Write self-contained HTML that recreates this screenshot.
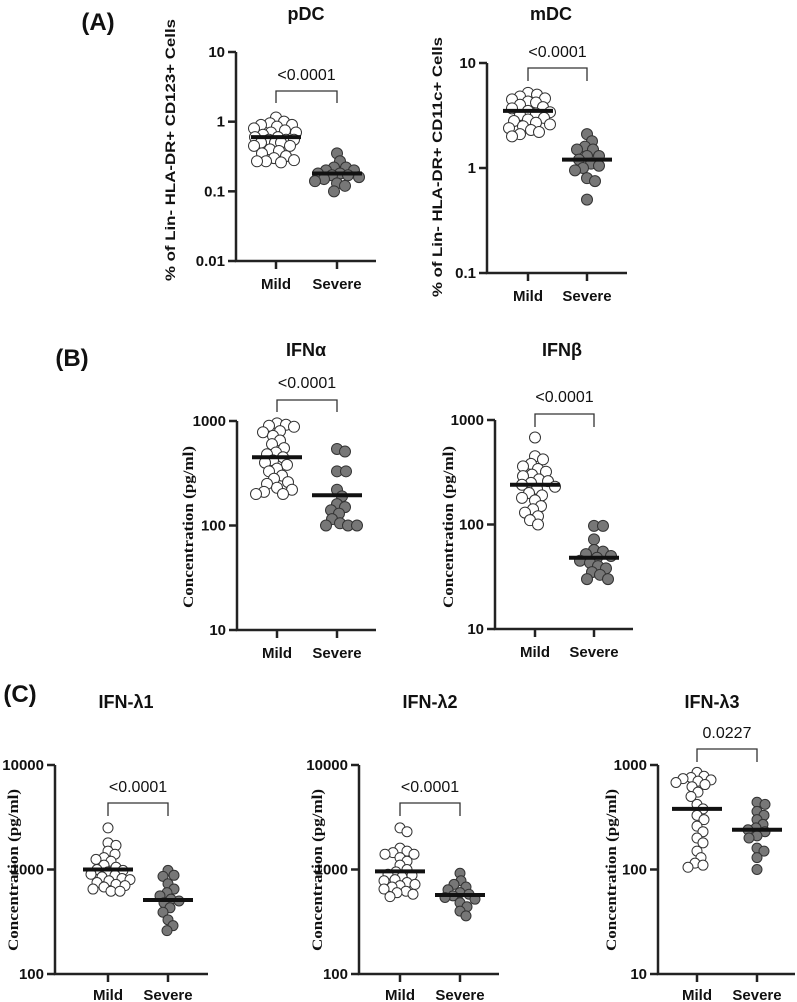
<!DOCTYPE html>
<html><head><meta charset="utf-8"><style>
html,body{margin:0;padding:0;background:#fff;}
svg{display:block;}
text{font-family:"Liberation Sans",Arial,sans-serif;fill:#111;}
.tick{font-weight:bold;font-size:15px;}
.ylab{font-weight:bold;font-size:14px;}
.ser{font-family:"Liberation Serif","Times New Roman",serif;font-weight:bold;font-size:15px;}
</style></head><body>
<svg id="fig" width="797" height="1002" viewBox="0 0 797 1002" xmlns="http://www.w3.org/2000/svg">
<text x="98" y="30" font-size="24" font-weight="bold" text-anchor="middle">(A)</text>
<text x="72" y="366" font-size="24" font-weight="bold" text-anchor="middle">(B)</text>
<text x="20" y="702" font-size="24" font-weight="bold" text-anchor="middle">(C)</text>
</svg>
<script>
const groups = ["Mild", "Severe"];
const pdcMild = [1.15,1.0,0.95,0.9,0.9,0.85,0.8,0.75,0.7,0.7,0.65,0.6,0.6,0.55,0.55,0.55,0.5,0.5,0.5,0.45,0.45,0.4,0.38,0.35,0.32,0.3,0.28,0.27,0.27,0.26];
const pdcSevere = [0.35,0.27,0.22,0.22,0.2,0.2,0.18,0.18,0.17,0.17,0.16,0.15,0.14,0.13,0.12,0.1];
const pdcMedians = [0.6,0.18];
const mdcMild = [5.2,5.0,4.8,4.6,4.5,4.3,4.2,4.0,3.8,3.7,3.5,3.4,3.3,3.2,3.0,2.9,2.8,2.7,2.6,2.5,2.4,2.3,2.2,2.1,2.0];
const mdcSevere = [2.1,1.8,1.6,1.5,1.5,1.3,1.3,1.2,1.1,1.05,1.0,0.95,0.8,0.75,0.5];
const mdcMedians = [3.5,1.2];
const ifnaMild = [950,920,900,880,800,780,720,650,600,550,500,480,450,420,400,380,350,330,300,280,260,250,230,220,210,200,200];
const ifnaSevere = [540,510,330,330,220,190,160,150,140,130,115,105,100,100,100];
const ifnaMedians = [450,195];
const ifnbMild = [680,450,420,380,360,340,320,300,290,270,260,250,240,230,220,200,190,180,170,150,140,130,120,110,100];
const ifnbSevere = [97,97,72,57,55,52,50,48,45,43,40,38,35,33,30,30];
const ifnbMedians = [240,48];
const l1Mild = [2500,1800,1700,1500,1400,1300,1250,1200,1100,1050,1000,980,950,900,880,850,820,800,780,750,720,700,680,650,620,620];
const l1Severe = [980,880,860,730,650,600,560,520,500,480,430,390,330,290,260];
const l1Medians = [1000,510];
const l2Mild = [2500,2300,1600,1500,1450,1400,1400,1300,1200,1100,1000,950,900,880,850,800,780,750,720,700,680,650,620,600,580,550];
const l2Severe = [920,780,720,680,640,600,580,560,540,520,480,440,400,360];
const l2Medians = [960,570];
const l3Mild = [850,780,760,740,720,700,680,650,620,550,500,420,380,330,300,260,230,200,180,150,130,115,110,105];
const l3Severe = [440,420,360,330,300,270,250,240,230,210,200,160,150,130,100];
const l3Medians = [380,240];
const tickPdc = ["0.01","0.1","1","10"];
const tickMdc = ["0.1","1","10"];
const tick10to1000 = ["10","100","1000"];
const tick100to10000 = ["100","1000","10000"];
const pvalues = ["<0.0001","<0.0001","<0.0001","<0.0001","<0.0001","<0.0001","0.0227"];

const NS="http://www.w3.org/2000/svg";
const svg=document.getElementById('fig');
function mk(tag,attrs,parent){const e=document.createElementNS(NS,tag);for(const k in attrs)e.setAttribute(k,attrs[k]);(parent||svg).appendChild(e);return e;}

const panels=[
 {name:'pdc',title:'pDC',tx:306,ty:20,ax:236,xEnd:376,ticks:tickPdc,yTop:52,yBot:261,mx:276,sx:337,mild:pdcMild,sev:pdcSevere,med:pdcMedians,bY:91,bD:12,pY:80,yl:'% of Lin- HLA-DR+ CD123+ Cells',ylx:170,yly:150,ylLen:262,serif:false,labY:289,p:0,r:5.5},
 {name:'mdc',title:'mDC',tx:551,ty:20,ax:487,xEnd:627,ticks:tickMdc,yTop:63,yBot:273,mx:528,sx:587,mild:mdcMild,sev:mdcSevere,med:mdcMedians,bY:68,bD:13,pY:57,yl:'% of Lin- HLA-DR+ CD11c+ Cells',ylx:437,yly:167,ylLen:260,serif:false,labY:301,p:1,r:5.5},
 {name:'ifna',title:'IFN\u03b1',tx:306,ty:356,ax:237,xEnd:376,ticks:tick10to1000,yTop:421,yBot:630,mx:277,sx:337,mild:ifnaMild,sev:ifnaSevere,med:ifnaMedians,bY:400,bD:12,pY:388,yl:'Concentration (pg/ml)',ylx:188,yly:527,ylLen:162,serif:true,labY:658,p:2,r:5.5},
 {name:'ifnb',title:'IFN\u03b2',tx:562,ty:356,ax:495,xEnd:633,ticks:tick10to1000,yTop:420,yBot:629,mx:535,sx:594,mild:ifnbMild,sev:ifnbSevere,med:ifnbMedians,bY:414,bD:13,pY:402,yl:'Concentration (pg/ml)',ylx:448,yly:527,ylLen:162,serif:true,labY:657,p:3,r:5.5},
 {name:'ifnl1',title:'IFN-\u03bb1',tx:126,ty:708,ax:55,xEnd:208,ticks:tick100to10000,yTop:765,yBot:974,mx:108,sx:168,mild:l1Mild,sev:l1Severe,med:l1Medians,bY:803,bD:13,pY:792,yl:'Concentration (pg/ml)',ylx:13,yly:870,ylLen:162,serif:true,labY:1000,p:4,r:5},
 {name:'ifnl2',title:'IFN-\u03bb2',tx:430,ty:708,ax:359,xEnd:499,ticks:tick100to10000,yTop:765,yBot:974,mx:400,sx:460,mild:l2Mild,sev:l2Severe,med:l2Medians,bY:803,bD:13,pY:792,yl:'Concentration (pg/ml)',ylx:317,yly:870,ylLen:162,serif:true,labY:1000,p:5,r:5},
 {name:'ifnl3',title:'IFN-\u03bb3',tx:712,ty:708,ax:658,xEnd:795,ticks:tick10to1000,yTop:765,yBot:974,mx:697,sx:757,mild:l3Mild,sev:l3Severe,med:l3Medians,bY:749,bD:13,pY:738,yl:'Concentration (pg/ml)',ylx:611,yly:870,ylLen:162,serif:true,labY:1000,p:6,r:5},
];

function swarm(vals,cx,yf,r){
  const placed=[];const out=[];
  const sorted=vals.slice().sort((a,b)=>b-a);
  const minD=r*1.5, cap=22;
  for(const v of sorted){
    const y=yf(v);let best=null;let bestScore=1e9,bestOff=0;
    for(let k=0;k*1.0<=cap&&best===null;k++){
      const cands=k===0?[0]:[k*1.0,-k*1.0];
      for(const off of cands){
        let dmin=1e9;
        placed.forEach(p=>{const d=Math.hypot(p.x-(cx+off),p.y-y);if(d<dmin)dmin=d;});
        if(dmin>=minD){best=off;break;}
        if(-dmin<bestScore){bestScore=-dmin;bestOff=off;}
      }
    }
    const pt={x:cx+(best!==null?best:bestOff),y:y};placed.push(pt);out.push(pt);
  }
  return out;
}

for(const P of panels){
  const g=mk('g',{});
  
  
  const lo=Math.log10(parseFloat(P.ticks[0])),hi=Math.log10(parseFloat(P.ticks[P.ticks.length-1]));
  const yf=v=>P.yBot-(Math.log10(v)-lo)/(hi-lo)*(P.yBot-P.yTop);
  const t=mk('text',{x:P.tx,y:P.ty,'font-size':18,'font-weight':'bold','text-anchor':'middle'},g);t.textContent=P.title;
  
  
  const yl=mk('text',{x:0,y:0,transform:`translate(${P.ylx+5},${P.yly}) rotate(-90)`,'text-anchor':'middle','textLength':P.ylLen,'lengthAdjust':'spacingAndGlyphs','class':P.serif?'ser':'ylab'},g);
  yl.textContent=P.yl;
  
  
  const ax=mk('path',{d:`M${P.ax},${P.yTop} V${P.yBot} H${P.xEnd}`,stroke:'#222','stroke-width':2.5,fill:'none'},g);
  
  
  P.ticks.forEach(tk=>{
    const y=yf(parseFloat(tk));
    mk('line',{x1:P.ax-8,x2:P.ax,y1:y,y2:y,stroke:'#222','stroke-width':2.5},g);
    const tl=mk('text',{x:P.ax-11,y:y+5,'text-anchor':'end','class':'tick'},g);tl.textContent=tk;
    
    
  });
  [P.mx,P.sx].forEach((x,i)=>{
    mk('line',{x1:x,x2:x,y1:P.yBot,y2:P.yBot+8,stroke:'#222','stroke-width':2.5},g);
    const xl=mk('text',{x:x,y:P.labY,'text-anchor':'middle','class':'tick'},g);xl.textContent=groups[i];
    
    
  });
  const br=mk('path',{d:`M${P.mx},${P.bY+P.bD} V${P.bY} H${P.sx} V${P.bY+P.bD}`,stroke:'#333','stroke-width':1.3,fill:'none'},g);
  
  
  const pv=mk('text',{x:(P.mx+P.sx)/2,y:P.pY,'text-anchor':'middle','font-size':16},g);pv.textContent=pvalues[P.p];
  
  
  [[P.mild,P.mx,'#fff','mild'],[P.sev,P.sx,'#777','severe']].forEach(([vals,cx,fill,nm])=>{
    swarm(vals,cx,yf,P.r).forEach(pt=>{
      const c=mk('circle',{cx:pt.x,cy:pt.y,r:P.r,fill:fill,stroke:'#333','stroke-width':1},g);
      
      
    });
  });
  P.med.forEach((m,i)=>{
    const cx=i===0?P.mx:P.sx;const y=yf(m);
    const ml=mk('line',{x1:cx-25,x2:cx+25,y1:y,y2:y,stroke:'#111','stroke-width':4},g);
    
    
  });
}
</script>
</body></html>
